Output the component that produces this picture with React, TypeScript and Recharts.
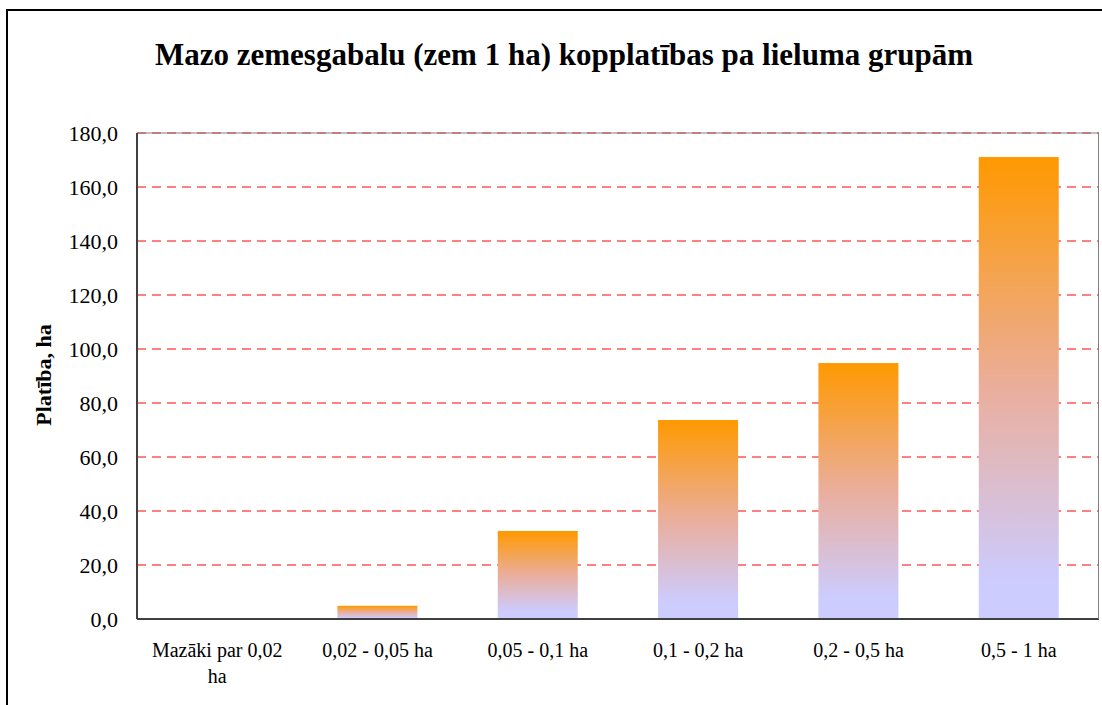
import { BarChart, Bar, XAxis, YAxis, CartesianGrid, ReferenceLine } from "recharts";

const categories = ["Mazāki par 0,02 ha", "0,02 - 0,05 ha", "0,05 - 0,1 ha", "0,1 - 0,2 ha", "0,2 - 0,5 ha", "0,5 - 1 ha"];
const areaValues = [0, 4.9, 32.6, 73.7, 94.8, 171.1];
const yTicks = [0, 20, 40, 60, 80, 100, 120, 140, 160, 180];

const data = categories.map((name, i) => ({ name, value: areaValues[i] }));

const FONT = "'Liberation Serif', 'Times New Roman', serif";

// greedy word wrap, the long first label breaks onto two lines
function wrap(label: string, max = 15) {
  const lines: string[] = [];
  let cur = "";
  label.split(" ").forEach((w) => {
    const next = cur ? cur + " " + w : w;
    if (next.length > max && cur) {
      lines.push(cur);
      cur = w;
    } else cur = next;
  });
  if (cur) lines.push(cur);
  return lines;
}

function CategoryTick({ x, y, payload }: any) {
  const lines = wrap(payload.value);
  return (
    <text x={x} y={y} textAnchor="middle" fontFamily={FONT} fontSize={20} fill="#000">
      {lines.map((l, i) => (
        <tspan key={i} x={x} dy={i === 0 ? 36 : 26}>{l}</tspan>
      ))}
    </text>
  );
}

// each bar: orange at its top fading to lavender at its bottom
function GradientBar(props: any) {
  const { x, y, width, height, index } = props;
  if (!height || height <= 0) return null;
  const id = `barFill${index}`;
  return (
    <g>
      <defs>
        <linearGradient id={id} x1="0" y1="0" x2="0" y2="1">
          <stop offset="0%" stopColor="#FF9900" />
          <stop offset="50%" stopColor="#EAAE9C" />
          <stop offset="92%" stopColor="#CCCCFF" />
          <stop offset="100%" stopColor="#CCCCFF" />
        </linearGradient>
      </defs>
      <rect x={x} y={y} width={width} height={height} fill={`url(#${id})`} />
    </g>
  );
}

export default function App() {
  return (
    <div style={{ position: "absolute", left: 0, top: 0, width: 1102, height: 705, background: "#fff", overflow: "hidden", fontFamily: FONT }}>
      {/* outer chart frame */}
      <div style={{ position: "absolute", left: 6, top: 9, width: 1120, height: 740, border: "2px solid #000", boxSizing: "border-box" }} />
      <div style={{ position: "absolute", left: 0, top: 37, width: 1128, textAlign: "center", fontSize: 31, fontWeight: "bold", color: "#000" }}>
        Mazo zemesgabalu (zem 1 ha) kopplatības pa lieluma grupām
      </div>
      <div style={{ position: "absolute", left: 44, top: 375, transform: "translate(-50%, -50%) rotate(-90deg)", whiteSpace: "nowrap", fontSize: 22, fontWeight: "bold", color: "#000" }}>
        Platība, ha
      </div>
      <div style={{ position: "absolute", left: 0, top: 0 }}>
        <BarChart width={1102} height={705} data={data} margin={{ top: 133, right: 3, bottom: 0, left: 77 }} barCategoryGap="25%">
          <CartesianGrid horizontal vertical={false} stroke="#FF0000" strokeDasharray="9 6" />
          <ReferenceLine y={180} stroke="#808080" strokeWidth={1} />
          <XAxis dataKey="name" height={86} tick={<CategoryTick />} tickLine={false} tickSize={0} axisLine={{ stroke: "#404040", strokeWidth: 2 }} interval={0} />
          <YAxis width={60} domain={[0, 180]} ticks={yTicks} tickFormatter={(v) => v.toFixed(1).replace(".", ",")} tickLine={false} tickSize={0} tickMargin={19} tick={{ fontSize: 22, fill: "#000", fontFamily: FONT }} axisLine={{ stroke: "#404040", strokeWidth: 2 }} />
          <Bar dataKey="value" shape={GradientBar} isAnimationActive={false} />
        </BarChart>
      </div>
      {/* right border of the plot area */}
      <div style={{ position: "absolute", left: 1098, top: 133, width: 1, height: 486, background: "#808080" }} />
    </div>
  );
}
